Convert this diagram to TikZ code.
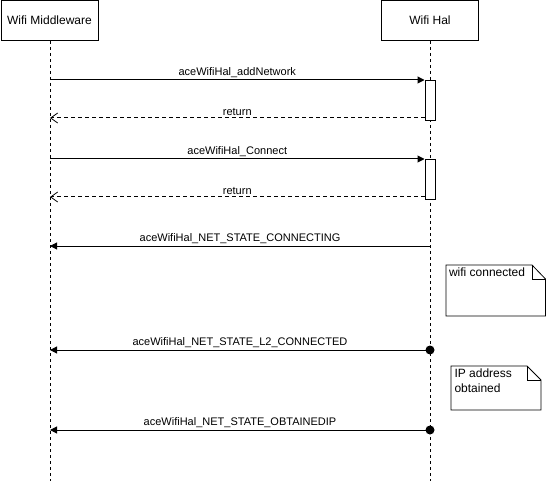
\documentclass[tikz,border=0pt]{standalone}
\usepackage{fontspec}
\setmainfont{Liberation Sans}
\usetikzlibrary{arrows.meta}
\begin{document}
\begin{tikzpicture}[x=1pt,y=-1pt,line width=1pt,
  head/.style={draw,minimum width=97pt,minimum height=40pt,inner sep=0pt,font=\fontsize{12}{14}\selectfont},
  life/.style={line width=0.8pt,dash pattern=on 3pt off 3pt},
  act/.style={draw,fill=white,minimum width=10pt,inner sep=0pt},
  call/.style={-{Triangle[length=7pt,width=7pt]}},
  ret/.style={dashed,dash pattern=on 4pt off 3pt,-{Straight Barb[length=7pt,width=10pt,line width=0.8pt]}},
  dot/.style={circle,fill=black,minimum size=9pt,inner sep=0pt},
  lbl/.style={font=\fontsize{11}{13}\selectfont,inner sep=1pt,anchor=south},
  notetext/.style={font=\fontsize{12}{14}\selectfont,align=left,inner sep=0pt,anchor=north west}]
\useasboundingbox (0,0) rectangle (546,481);
\node[head] (mw) at (49.5,20.5) {Wifi Middleware};
\node[head] (hal) at (430,20.5) {Wifi Hal};
\coordinate (mwend) at (50,481);
\coordinate (halend) at (430,481);
\draw[life] (mw.south -| mwend) -- (mwend);
\draw[life] (hal.south -| halend) -- (halend);
% activations
\node[act,minimum height=40pt,anchor=north] (a1) at (430,80) {};
\node[act,minimum height=40pt,anchor=north] (a2) at (430,159) {};
% message endpoints
\coordinate (m1) at (50,80);
\coordinate (r1) at (50,118);
\coordinate (m2) at (50,159);
\coordinate (r2) at (50,197);
\coordinate (m3) at (50,246);
\coordinate (h3) at (430,246);
\coordinate (m4) at (50,350);
\node[dot] (h4) at (430,350) {};
\coordinate (m5) at (50,430);
\node[dot] (h5) at (430,430) {};
\draw[call] (m1) -- node[lbl,above=1pt] {aceWifiHal\_addNetwork} (a1.north west);
\draw[ret] (a1.west |- r1) -- node[lbl,above=1pt] {return} (r1);
\draw[call] (m2) -- node[lbl,above=1pt] {aceWifiHal\_Connect} (a2.north west);
\draw[ret] (a2.west |- r2) -- node[lbl,above=1pt] {return} (r2);
\draw[call] (h3) -- node[lbl,above=1pt] {aceWifiHal\_NET\_STATE\_CONNECTING} (m3);
\draw[call] (h4.center) -- node[lbl,above=1pt] {aceWifiHal\_NET\_STATE\_L2\_CONNECTED} (m4);
\draw[call] (h5.center) -- node[lbl,above=1pt] {aceWifiHal\_NET\_STATE\_OBTAINEDIP} (m5);
% notes
\draw[line width=0.8pt] (446,265) -- (532,265) -- (545.5,279) -- (545.5,316) -- (446,316) -- cycle;
\draw[line width=0.8pt] (532,265) -- (532,279) -- (545.5,279);
\node[notetext] (n1) at (448.5,267.5) {wifi connected};
\draw[line width=0.8pt] (451,366) -- (527,366) -- (541,380) -- (541,410) -- (451,410) -- cycle;
\draw[line width=0.8pt] (527,366) -- (527,380) -- (541,380);
\node[notetext,font=\fontsize{12}{15}\selectfont] (n2) at (454,368) {IP address\\obtained};
\end{tikzpicture}
\end{document}
